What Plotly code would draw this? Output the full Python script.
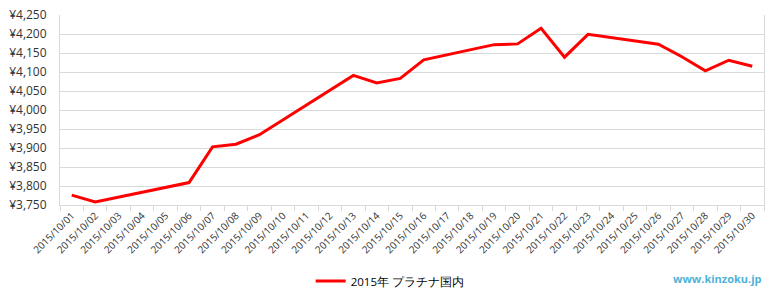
import plotly.graph_objects as go

dates = [f"2015/10/{d:02d}" for d in range(1, 31)]
prices = [3776, 3758, None, None, None, 3809, 3903, 3910, 3935, None,
          None, None, 4091, 4071, 4083, 4132, None, None, 4172, 4174,
          4215, 4139, 4199, None, None, 4173, 4140, 4103, 4131, 4115]
series_name = "2015年 プラチナ国内"
y_ticks = [3750, 3800, 3850, 3900, 3950, 4000, 4050, 4100, 4150, 4200, 4250]
y_tick_labels = [f"¥{v:,}" for v in y_ticks]

font_family = "Open Sans, Liberation Sans, sans-serif"

fig = go.Figure()
fig.add_trace(go.Scatter(
    x=dates, y=prices, mode="lines", name=series_name,
    connectgaps=True,
    line=dict(color="#ff0000", width=3),
))

fig.update_layout(
    width=780, height=300,
    margin=dict(l=60, r=16, t=15, b=95, autoexpand=False),
    paper_bgcolor="white", plot_bgcolor="white",
    font=dict(family=font_family, color="#333333"),
    showlegend=True,
    legend=dict(orientation="h", x=0.469, xanchor="center",
                y=-0.4, yanchor="middle",
                font=dict(size=11.5, color="#000000")),
    annotations=[dict(text="<b>www.kinzoku.jp</b>", xref="paper", yref="paper",
                      x=1.0, y=-0.385, xanchor="right", yanchor="middle",
                      showarrow=False, font=dict(size=11, color="#4fb3d9"))],
)
fig.update_xaxes(
    type="category", tickangle=-45, tickfont=dict(size=10, color="#333333"),
    showgrid=False, showline=True, linecolor="#d9d9d9", linewidth=1,
    ticks="outside", tickson="boundaries", ticklen=5, tickcolor="#d9d9d9",
    range=[-0.5, 29.5],
)
fig.update_yaxes(
    range=[3750, 4250], tickvals=y_ticks, ticktext=y_tick_labels,
    tickfont=dict(size=12, color="#333333"),
    showgrid=True, gridcolor="#d9d9d9", gridwidth=1,
    showline=True, linecolor="#d9d9d9", mirror=True, zeroline=False,
    ticks="", ticklen=0, ticklabelstandoff=10,
)
fig.write_html("out.html")
